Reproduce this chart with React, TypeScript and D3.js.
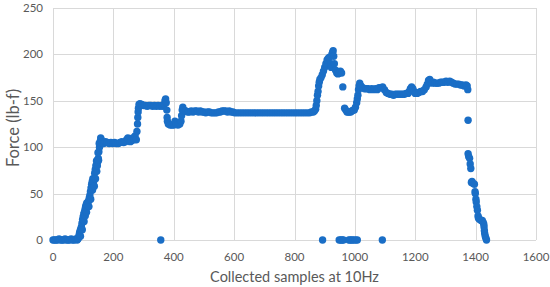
import * as d3 from 'd3';

const W = 550, H = 287;
const ML = 53, MR = 14, MT = 8, MB = 47;

const xTicks = [0, 200, 400, 600, 800, 1000, 1200, 1400, 1600];
const yTicks = [0, 50, 100, 150, 200, 250];

// [sample, force], phase by phase
const idle: [number, number][] = [
  [0, 0], [5, 0], [10, 0], [15, 0], [20, 1], [25, 0], [30, 0], [35, 0], [40, 1], [45, 0],
  [50, 0], [55, 0], [60, 1], [65, 0], [70, 0], [75, 1], [80, 0], [82, 1],
];
const ramp: [number, number][] = [
  [84, 2], [86, 5], [88, 8], [90, 10], [92, 12], [94, 14], [96, 18], [98, 22], [100, 25],
  [102, 28], [104, 30], [106, 33], [108, 36], [110, 38], [112, 40], [114, 38], [116, 41],
  [118, 42], [120, 45], [122, 48], [124, 52], [126, 56], [128, 60], [130, 63], [132, 66],
  [134, 62], [136, 66], [138, 72], [140, 76], [142, 80], [144, 85], [146, 86], [148, 84],
  [150, 88], [152, 95], [154, 100], [156, 106], [158, 110], [160, 108],
  // scatter around the ramp band
  [91, 4], [97, 11], [103, 20], [107, 26], [111, 30], [119, 36], [125, 44], [131, 54],
  [137, 58], [141, 66], [145, 74], [147, 80], [149, 94], [151, 86], [153, 104],
];
const plateau1: [number, number][] = [
  [162, 105], [168, 104], [174, 106], [180, 105], [186, 104], [192, 105], [198, 104],
  [204, 105], [210, 104], [216, 104], [222, 105], [228, 106], [234, 105], [240, 106],
  [244, 108], [248, 110], [252, 108], [256, 106], [260, 107], [264, 110], [268, 108],
  [272, 112], [276, 108], [278, 117],
];
const plateau2: [number, number][] = [
  [280, 125], [281, 132], [282, 138], [283, 142], [285, 146], [288, 147], [294, 146],
  [300, 145], [306, 145], [312, 144], [318, 145], [324, 145], [330, 144], [336, 145],
  [342, 144], [348, 145], [354, 144], [360, 145], [364, 144], [368, 146], [371, 150],
  [373, 152], [375, 148], [377, 140], [378, 132], [379, 128],
];
const dip: [number, number][] = [
  [382, 125], [388, 124], [394, 124], [400, 124], [404, 128], [408, 125], [414, 124],
  [420, 125], [424, 128], [426, 134], [428, 140], [430, 143],
];
const plateau3: [number, number][] = [
  [434, 140], [440, 139], [446, 138], [452, 138], [458, 139], [464, 138], [470, 139],
  [476, 139], [482, 138], [488, 139], [494, 138], [500, 138], [506, 137], [512, 138],
  [518, 138], [524, 137], [530, 137], [536, 137], [542, 137], [548, 138], [554, 138],
  [560, 139], [566, 139], [572, 139], [578, 138], [584, 139], [590, 138], [596, 138],
  [602, 137], [610, 137], [618, 137], [626, 137], [634, 137], [642, 137], [650, 137],
  [658, 137], [666, 137], [674, 137], [682, 137], [690, 137], [698, 137], [706, 137],
  [714, 137], [722, 137], [730, 137], [738, 137], [746, 137], [754, 137], [762, 137],
  [770, 137], [778, 137], [786, 137], [794, 137], [802, 137], [810, 137], [818, 137],
  [826, 137], [834, 137], [842, 137], [850, 137], [856, 138], [862, 138], [866, 139],
];
const peak: [number, number][] = [
  [870, 141], [872, 145], [874, 150], [876, 156], [878, 160], [880, 166], [882, 170],
  [884, 173], [888, 175], [892, 178], [896, 182], [900, 186], [904, 190], [908, 194],
  [912, 196], [916, 197], [920, 190], [922, 186], [924, 200], [926, 202], [928, 204],
  [930, 198], [932, 190], [936, 183], [940, 180], [944, 179], [948, 180], [952, 182],
  [956, 180], [960, 165],
];
const recover: [number, number][] = [
  [966, 142], [970, 140], [974, 138], [978, 138], [982, 138], [986, 138], [990, 139],
  [994, 140], [998, 140], [1002, 143], [1006, 148], [1008, 152], [1010, 156],
  [1012, 162], [1014, 166], [1016, 169],
];
const plateau4: [number, number][] = [
  [1020, 166], [1026, 164], [1032, 163], [1038, 163], [1044, 163], [1050, 162],
  [1056, 163], [1062, 162], [1068, 163], [1074, 162], [1080, 164], [1086, 164],
  [1092, 165], [1098, 162], [1104, 159], [1110, 158], [1116, 157], [1122, 157],
  [1128, 156], [1134, 157], [1140, 157], [1146, 157], [1152, 157], [1158, 157],
  [1164, 157], [1170, 158], [1176, 158], [1180, 160], [1184, 163], [1188, 165],
  [1192, 163], [1196, 160], [1200, 158], [1206, 158], [1212, 159], [1218, 160],
  [1224, 160], [1230, 162], [1236, 165], [1240, 168], [1244, 172], [1248, 173],
  [1252, 170], [1256, 169], [1260, 170], [1266, 169], [1272, 169], [1278, 169],
  [1284, 170], [1290, 170], [1296, 170], [1302, 171], [1308, 170], [1314, 171],
  [1320, 170], [1326, 169], [1332, 168], [1338, 168], [1344, 168], [1350, 167],
  [1356, 167], [1362, 166], [1368, 167], [1372, 166], [1374, 162],
];
const release: [number, number][] = [
  [1375, 129], [1375, 93], [1377, 90], [1380, 88], [1382, 82], [1384, 77], [1386, 62],
  [1388, 63], [1392, 61], [1396, 60], [1398, 52], [1399, 50], [1401, 44], [1402, 41],
  [1404, 36], [1406, 32], [1408, 26], [1409, 24], [1411, 23], [1414, 22], [1418, 21],
  [1422, 21], [1425, 19], [1427, 17], [1428, 14], [1429, 10], [1430, 7], [1432, 4],
  [1434, 2], [1436, 0],
];
const dropouts: [number, number][] = [
  [357, 0], [893, 0], [948, 0], [953, 0], [958, 0], [962, 0], [980, 0], [985, 0],
  [990, 0], [995, 0], [1002, 0], [1008, 0], [1091, 0],
];

const samples = [
  ...idle, ...ramp, ...plateau1, ...plateau2, ...dip, ...plateau3,
  ...peak, ...recover, ...plateau4, ...release, ...dropouts,
];

const FONT = 'Lato, "Open Sans", sans-serif';

export default function App() {
  const x = d3.scaleLinear().domain([0, 1600]).range([ML, W - MR]);
  const y = d3.scaleLinear().domain([0, 250]).range([H - MB, MT]);

  return (
    <svg
      width={W}
      height={H}
      viewBox={`0 0 ${W} ${H}`}
      style={{ position: 'absolute', left: 0, top: 0, background: '#fff' }}
    >
      {/* grid */}
      <g stroke="#d9d9d9" strokeWidth={1}>
        {yTicks.map((t) => (
          <line key={`h${t}`} x1={x(0)} x2={x(1600)} y1={Math.round(y(t)) + 0.5} y2={Math.round(y(t)) + 0.5} />
        ))}
        {xTicks.map((t) => (
          <line key={`v${t}`} x1={Math.round(x(t)) + 0.5} x2={Math.round(x(t)) + 0.5} y1={y(0)} y2={y(250)} />
        ))}
      </g>

      {/* tick labels */}
      <g fontFamily={FONT} fontSize={11.5} fill="#595959">
        {yTicks.map((t) => (
          <text key={`yl${t}`} x={x(0) - 10} y={y(t)} dy="0.35em" textAnchor="end">{t}</text>
        ))}
        {xTicks.map((t) => (
          <text key={`xl${t}`} x={x(t)} y={y(0) + 17} dy="0.35em" textAnchor="middle">{t}</text>
        ))}
      </g>

      {/* points */}
      <g fill="#1a6ec6">
        {samples.map(([s, f], i) => (
          <circle key={i} cx={x(s)} cy={y(f)} r={3.7} />
        ))}
      </g>

      {/* axis titles */}
      <text
        x={(x(0) + x(1600)) / 2}
        y={277}
        dy="0.35em"
        textAnchor="middle"
        fontFamily={FONT}
        fontSize={14.5}
        fill="#595959"
      >
        Collected samples at 10Hz
      </text>
      <text
        transform={`translate(13,${(y(0) + y(250)) / 2 + 4}) rotate(-90)`}
        dy="0.35em"
        textAnchor="middle"
        fontFamily={FONT}
        fontSize={16.5}
        fill="#595959"
      >
        Force (lb-f)
      </text>
    </svg>
  );
}
